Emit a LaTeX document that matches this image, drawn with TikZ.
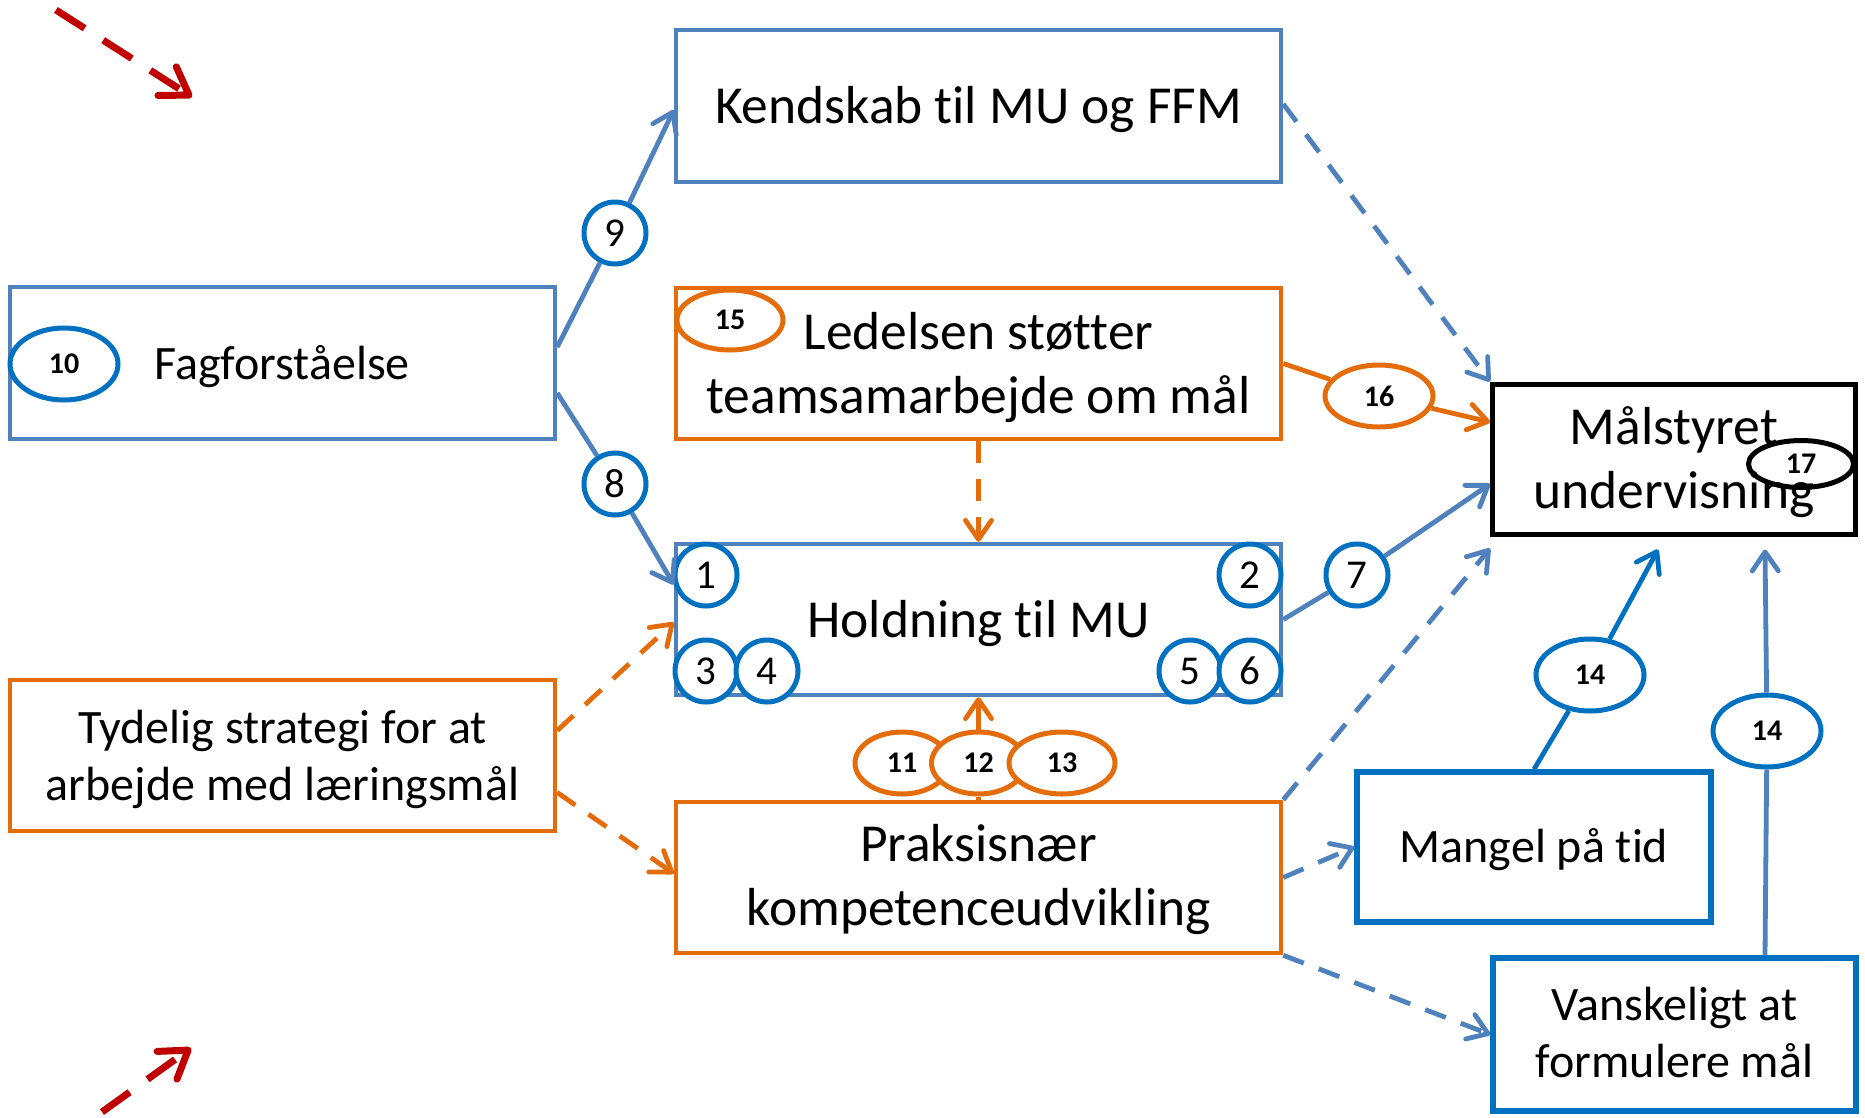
\documentclass[tikz,border=0pt]{standalone}
\usepackage{fontspec}
\setmainfont{Carlito}[Ligatures=NoCommon]
\usetikzlibrary{arrows.meta,shapes.geometric,calc}
\definecolor{sblue}{HTML}{4F81BD}
\definecolor{cblue}{HTML}{0070C0}
\definecolor{orng}{HTML}{E46C0A}
\definecolor{dred}{HTML}{C00000}
\tikzset{
  box/.style={draw, rectangle, inner sep=0pt, line width=4.5pt},
  lbl/.style={font=\fontsize{53.5}{64}\selectfont, align=center, inner sep=0pt, anchor=base},
  mlbl/.style={font=\fontsize{48}{57}\selectfont, align=center, inner sep=0pt, anchor=base},
  num/.style={circle, draw=cblue, line width=5pt, fill=white, minimum size=62pt, inner sep=0pt, font=\fontsize{41}{41}\selectfont},
  oval/.style={ellipse, line width=5pt, inner sep=0pt, font=\bfseries\fontsize{30}{30}\selectfont},
  conn/.style={line width=4.8pt},
  arr/.style={-{Straight Barb[length=19pt,width=26pt,round]}},
  dsh/.style={dash pattern=on 22pt off 16pt},
  redarr/.style={draw=dred, line width=7pt, dash pattern=on 34pt off 22pt, -{Straight Barb[length=26pt,width=34pt,round]}}
}
\begin{document}
\begin{tikzpicture}[x=1pt,y=-1pt]
\useasboundingbox (0,0) rectangle (1865,1117);
% boxes
\node[box, draw=sblue, minimum width=605pt, minimum height=152pt] (kend) at (978.5,106) {};
\node[box, draw=orng, minimum width=605pt, minimum height=151pt] (led) at (978.5,363.5) {};
\node[box, draw=sblue, minimum width=605pt, minimum height=151pt] (hold) at (978.5,619.5) {};
\node[box, draw=orng, minimum width=605pt, minimum height=151pt] (prak) at (978.5,877.5) {};
\node[box, draw=sblue, minimum width=545pt, minimum height=152pt] (fag) at (282.5,363) {};
\node[box, draw=orng, minimum width=545pt, minimum height=151pt] (tyd) at (282.5,755.5) {};
\node[box, draw=black, line width=5pt, minimum width=363pt, minimum height=150pt] (mal) at (1674,459) {};
\node[box, draw=cblue, line width=5.5pt, minimum width=354pt, minimum height=150pt] (mang) at (1534,847) {};
\node[box, draw=cblue, line width=5.5pt, minimum width=363pt, minimum height=153pt] (vans) at (1674.5,1034.5) {};
% texts (base = last line)
\node[lbl] (kendT) at (978.5,123) {Kendskab til MU og FFM};
\node[lbl] (ledT) at (978.5,413) {Ledelsen støtter\\teamsamarbejde om mål};
\node[lbl] (holdT) at (978.5,637) {Holdning til MU};
\node[lbl] (prakT) at (978.5,925) {Praksisnær\\kompetenceudvikling};
\node[mlbl] (fagT) at (282,379) {Fagforståelse};
\node[mlbl] (tydT) at (282.5,800) {Tydelig strategi for at\\arbejde med læringsmål};
\node[lbl] (malT) at (1674,508) {Målstyret\\undervisning};
\node[mlbl] (mangT) at (1534,862) {Mangel på tid};
\node[mlbl] (vansT) at (1674.5,1077) {Vanskeligt at\\formulere mål};
% numbered circles
\node[num] (c1) at (706,575) {1};
\node[num] (c2) at (1250,575) {2};
\node[num] (c3) at (706,671) {3};
\node[num] (c4) at (767,671) {4};
\node[num] (c5) at (1190,671) {5};
\node[num] (c6) at (1250,671) {6};
\node[num] (c7) at (1357,575) {7};
\node[num] (c8) at (615,484) {8};
\node[num] (c9) at (615,233) {9};
% ellipses
\node[oval, draw=cblue, fill=white, minimum width=108pt, minimum height=72pt] (e10) at (64,364) {10};
\node[oval, draw=orng, fill=white, minimum width=106pt, minimum height=60pt] (e15) at (730,320) {15};
\node[oval, draw=orng, fill=white, minimum width=108pt, minimum height=62pt] (e16) at (1379,396) {16};
\node[oval, draw=black, minimum width=105pt, minimum height=47pt] (e17) at (1801,464) {17};
\node[oval, draw=cblue, fill=white, minimum width=108pt, minimum height=72pt] (e14a) at (1590,675) {14};
\node[oval, draw=cblue, fill=white, minimum width=108pt, minimum height=72pt] (e14b) at (1767,731) {14};
\node[oval, draw=orng, fill=white, minimum width=94pt, minimum height=62pt] (e11) at (902,763) {11};
\node[oval, draw=orng, fill=white, minimum width=94pt, minimum height=62pt] (e12) at (978.5,763) {12};
\node[oval, draw=orng, fill=white, minimum width=106pt, minimum height=62pt] (e13) at (1062,763) {13};
% connectors
\draw[conn, sblue] ($(fag.east)+(0,-16)$) -- (c9);
\draw[conn, sblue, arr] (c9) -- ($(kend.west)+(0,4)$);
\draw[conn, sblue] ($(fag.east)+(0,30)$) -- (c8);
\draw[conn, sblue, arr] (c8) -- ($(hold.west)+(0,-35)$);
\draw[conn, sblue, dsh, arr] ($(kend.east)+(0,-2)$) -- (mal.north west);
\draw[conn, orng] (led.east) -- (e16);
\draw[conn, orng, arr] (e16) -- ($(mal.west)+(0,-37)$);
\draw[conn, sblue] (hold.east) -- (c7);
\draw[conn, sblue, arr] (c7) -- ($(mal.west)+(0,25)$);
\draw[conn, orng, dsh, arr] (led.south) -- (hold.north);
\draw[conn, orng, dsh, arr] ($(tyd.east)+(0,-25)$) -- ($(hold.west)+(0,3)$);
\draw[conn, orng, dsh, arr] ($(tyd.east)+(0,37)$) -- ($(prak.west)+(0,-4)$);
\draw[conn, orng] (prak.north) -- (e12);
\draw[conn, orng, arr] (e12) -- (hold.south);
\draw[conn, sblue, dsh, arr] (prak.north east) -- ($(mal.south west)+(0,12)$);
\draw[conn, sblue, dsh, arr] (prak.east) -- (mang.west);
\draw[conn, sblue, dsh, arr] (prak.south east) -- (vans.west);
\draw[conn, cblue] (mang.north) -- (e14a);
\draw[conn, cblue, arr] (e14a) -- ($(mal.south)+(-16,13)$);
\draw[conn, sblue] ($(vans.north)+(90.5,0)$) -- (e14b);
\draw[conn, sblue, arr] (e14b) -- ($(mal.south)+(91,13)$);
% red arrows
\coordinate (r1s) at (56,10);
\coordinate (r1e) at (192,97);
\coordinate (r2s) at (102,1112);
\coordinate (r2e) at (191,1048);
\draw[redarr] (r1s) -- (r1e);
\draw[redarr] (r2s) -- (r2e);
\end{tikzpicture}
\end{document}
